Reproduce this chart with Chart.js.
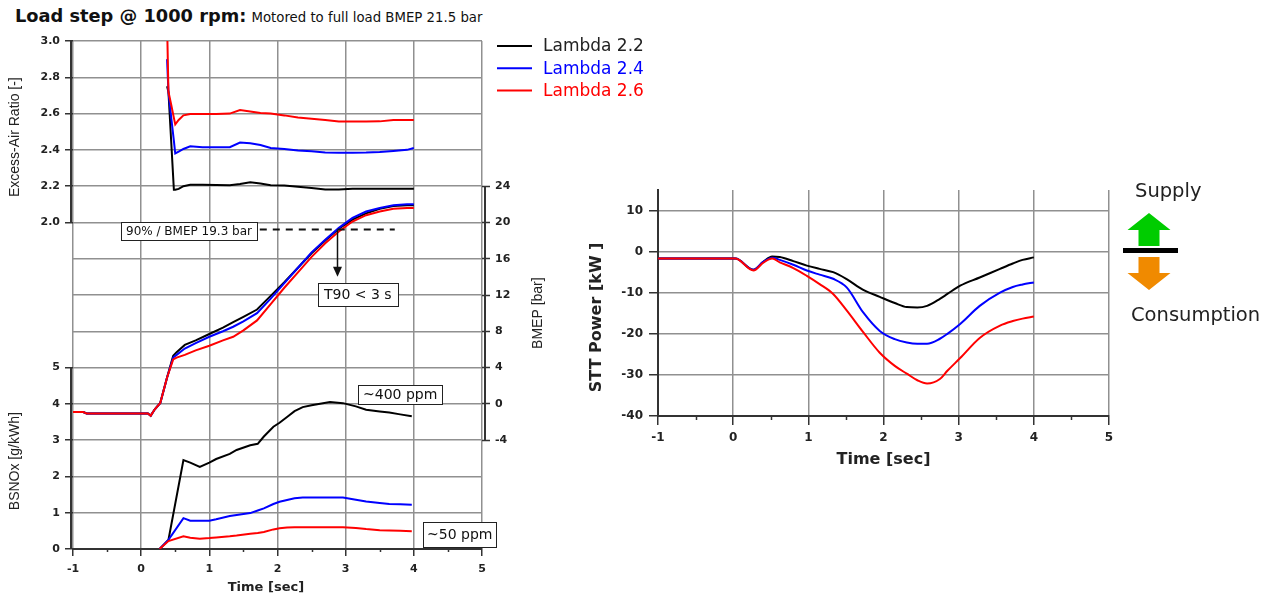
<!DOCTYPE html>
<html>
<head>
<meta charset="utf-8">
<script src="https://cdn.jsdelivr.net/npm/chart.js@4.4.1/dist/chart.umd.min.js"></script>
<style>
    body { margin: 0; background: #fff; width: 1277px; height: 599px; position: relative; overflow: hidden; font-family: 'DejaVu Sans', sans-serif; }
    #title { position: absolute; left: 15px; top: 6px; line-height: 20px; white-space: nowrap; color: #111; }
    #title b { font-size: 17.8px; }
    #title span { font-size: 13.3px; }
    #chartLeft { position: absolute; left: 0; top: 0; }
    #chartRight { position: absolute; left: 570px; top: 0; }
</style>
</head>
<body>
<div id="title"><b>Load step @ 1000 rpm:</b> <span>Motored to full load BMEP 21.5 bar</span></div>
<canvas id="chartLeft" width="700" height="599"></canvas>
<canvas id="chartRight" width="707" height="599"></canvas>
<script>
const lambdaNames = ['Lambda 2.2', 'Lambda 2.4', 'Lambda 2.6'];

// excess-air ratio [-]
const tLambda  = [0.38, 0.40, 0.44, 0.48, 0.50, 0.55, 0.62, 0.72, 0.90, 1.10, 1.30, 1.45, 1.60, 1.75, 1.90, 2.10, 2.30, 2.50, 2.70, 2.90, 3.10, 3.30, 3.50, 3.70, 3.90, 4.00];
const lambda22 = [2.75, 2.72, 2.45, 2.18, 2.18, 2.185, 2.20, 2.207, 2.207, 2.206, 2.205, 2.212, 2.222, 2.214, 2.205, 2.203, 2.196, 2.19, 2.181, 2.181, 2.185, 2.185, 2.185, 2.185, 2.185, 2.185];
const lambda24 = [2.90, 2.72, 2.58, 2.45, 2.38, 2.39, 2.405, 2.42, 2.415, 2.415, 2.415, 2.44, 2.437, 2.427, 2.41, 2.405, 2.397, 2.392, 2.386, 2.384, 2.384, 2.385, 2.388, 2.394, 2.40, 2.41];
const lambda26 = [3.10, 2.72, 2.65, 2.576, 2.54, 2.565, 2.59, 2.598, 2.598, 2.598, 2.60, 2.62, 2.612, 2.603, 2.60, 2.59, 2.578, 2.572, 2.565, 2.556, 2.556, 2.556, 2.557, 2.564, 2.565, 2.565];

// BMEP [bar]
const tBmep  = [-1.0, -0.85, -0.80, 0.10, 0.14, 0.20, 0.28, 0.38, 0.47, 0.52, 0.64, 0.80, 1.00, 1.20, 1.35, 1.50, 1.70, 1.90, 2.10, 2.30, 2.50, 2.70, 2.90, 3.10, 3.30, 3.50, 3.70, 3.90, 4.00];
const bmep22 = [-0.9, -0.9, -1.05, -1.05, -1.3, -0.6, 0.1, 2.9, 5.3, 5.7, 6.5, 7.0, 7.7, 8.4, 9.0, 9.6, 10.4, 11.9, 13.4, 15.0, 16.6, 18.0, 19.3, 20.3, 21.0, 21.5, 21.8, 21.9, 21.9];
const bmep24 = [-0.9, -0.9, -1.05, -1.05, -1.3, -0.6, 0.1, 2.9, 5.1, 5.4, 6.1, 6.7, 7.4, 8.0, 8.5, 9.1, 10.0, 11.6, 13.3, 15.0, 16.7, 18.1, 19.4, 20.5, 21.2, 21.6, 21.9, 22.0, 22.0];
const bmep26 = [-0.9, -0.9, -1.05, -1.05, -1.3, -0.6, 0.1, 2.9, 4.9, 5.1, 5.4, 5.9, 6.4, 7.0, 7.4, 8.1, 9.2, 11.0, 12.8, 14.5, 16.2, 17.7, 19.0, 20.1, 20.8, 21.2, 21.5, 21.6, 21.6];

// BSNOx [g/kWh]
const tNox  = [0.27, 0.40, 0.62, 0.72, 0.86, 1.00, 1.10, 1.30, 1.40, 1.60, 1.71, 1.80, 1.94, 2.03, 2.14, 2.25, 2.37, 2.50, 2.77, 2.96, 3.15, 3.30, 3.50, 3.64, 3.80, 3.97];
const nox22 = [0.0, 0.25, 2.45, 2.38, 2.26, 2.38, 2.48, 2.62, 2.73, 2.86, 2.90, 3.10, 3.37, 3.48, 3.64, 3.80, 3.91, 3.96, 4.05, 4.02, 3.93, 3.84, 3.79, 3.76, 3.71, 3.66];
const nox24 = [0.0, 0.25, 0.85, 0.78, 0.78, 0.78, 0.82, 0.91, 0.94, 0.99, 1.06, 1.12, 1.24, 1.30, 1.35, 1.40, 1.42, 1.42, 1.42, 1.42, 1.36, 1.31, 1.27, 1.24, 1.23, 1.22];
const nox26 = [0.0, 0.22, 0.35, 0.31, 0.28, 0.30, 0.32, 0.35, 0.37, 0.42, 0.44, 0.47, 0.54, 0.57, 0.59, 0.60, 0.60, 0.60, 0.60, 0.60, 0.58, 0.55, 0.52, 0.51, 0.50, 0.49];

// STT power [kW]
const tStt  = [-1.0, 0.03, 0.27, 0.40, 0.52, 0.62, 0.80, 0.98, 1.15, 1.33, 1.51, 1.73, 1.95, 2.15, 2.31, 2.45, 2.58, 2.75, 2.85, 3.02, 3.28, 3.55, 3.72, 3.85, 4.00];
const stt22 = [-1.7, -1.7, -4.4, -2.5, -1.2, -1.3, -2.3, -3.4, -4.2, -5.0, -6.7, -9.3, -11.0, -12.5, -13.5, -13.6, -13.2, -11.5, -10.3, -8.3, -6.3, -4.2, -2.9, -2.0, -1.4];
const stt24 = [-1.7, -1.7, -4.4, -2.5, -1.5, -2.0, -3.2, -4.6, -5.6, -6.6, -8.7, -14.8, -19.3, -21.3, -22.1, -22.4, -22.4, -21.2, -20.0, -17.6, -13.2, -10.0, -8.6, -8.0, -7.5];
const stt26 = [-1.7, -1.7, -4.6, -2.7, -1.7, -2.6, -4.0, -5.9, -7.9, -10.3, -14.3, -19.6, -24.6, -27.8, -29.7, -31.3, -32.1, -31.0, -29.0, -25.9, -21.0, -18.0, -16.9, -16.3, -15.8];

// tick labels on the shared left axis
const lambdaTickLabels = ['2.0', '2.2', '2.4', '2.6', '2.8', '3.0'];
const noxTickLabels = ['0', '1', '2', '3', '4', '5'];

const colors = ['#000000', '#0000ff', '#ff0000'];
const gridColor = '#909090';
const axisColor = '#333';
const textColor = '#222';

Chart.defaults.font.family = 'DejaVu Sans';
Chart.defaults.animation = false;

const pts = (ts, vs) => ts.map((t, i) => ({x: t, y: vs[i]}));

function line(label, ts, vs, color, axis, smooth) {
    return {
        label: label,
        data: pts(ts, vs),
        borderColor: color,
        borderWidth: 2,
        pointRadius: 0,
        fill: false,
        yAxisID: axis,
        cubicInterpolationMode: smooth ? 'monotone' : 'default',
        tension: 0
    };
}

// left axis: 14 grid steps, lower part BSNOx, upper part excess-air ratio
function gridLabel(v) {
    if (v <= 5) return noxTickLabels[v];
    if (v >= 9) return lambdaTickLabels[v - 9];
    return '';
}

function vline(ctx, x, y1, y2) {
    ctx.beginPath();
    ctx.moveTo(x, y1);
    ctx.lineTo(x, y2);
    ctx.stroke();
}

function rotText(ctx, text, x, y, font) {
    ctx.save();
    ctx.translate(x, y);
    ctx.rotate(-Math.PI / 2);
    ctx.font = font;
    ctx.fillStyle = textColor;
    ctx.textAlign = 'center';
    ctx.textBaseline = 'middle';
    ctx.fillText(text, 0, 0);
    ctx.restore();
}

function minorTicks(ctx, xScale, y0, len) {
    ctx.strokeStyle = axisColor;
    ctx.lineWidth = 1.5;
    for (let v = -0.5; v < 5; v += 1) {
        const px = Math.round(xScale.getPixelForValue(v)) + 0.5;
        vline(ctx, px, y0, y0 + len);
    }
}

function labelBox(ctx, text, left, cy, size, padX, h) {
    ctx.font = size + 'px "DejaVu Sans"';
    const w = Math.round(ctx.measureText(text).width + 2 * padX);
    const top = Math.round(cy - h / 2);
    const l = Math.round(left);
    ctx.fillStyle = '#fff';
    ctx.fillRect(l, top, w, h);
    ctx.strokeStyle = '#222';
    ctx.lineWidth = 1;
    ctx.strokeRect(l + 0.5, top + 0.5, w, h);
    ctx.fillStyle = '#111';
    ctx.textAlign = 'left';
    ctx.textBaseline = 'middle';
    ctx.fillText(text, l + padX, top + h / 2 + 1);
}

const leftDecor = {
    id: 'leftDecor',
    afterDraw: chart => {
        const {ctx, chartArea: a} = chart;
        const {x, y, yLam, yNox, yBmep} = chart.scales;
        ctx.save();

        // partial axis lines
        ctx.strokeStyle = axisColor;
        ctx.lineWidth = 2;
        vline(ctx, a.left - 2, y.getPixelForValue(9), y.getPixelForValue(14));
        vline(ctx, a.left - 2, y.getPixelForValue(0), y.getPixelForValue(5));
        vline(ctx, a.right + 3, yBmep.getPixelForValue(-4), yBmep.getPixelForValue(24));
        minorTicks(ctx, x, a.bottom, 3);

        // axis titles
        const tf = '14px "Liberation Sans"';
        rotText(ctx, 'Excess-Air Ratio [-]', 15, yLam.getPixelForValue(2.47), tf);
        rotText(ctx, 'BSNOx [g/kWh]', 15, yNox.getPixelForValue(2.42), tf);
        rotText(ctx, 'BMEP [bar]', 538, yBmep.getPixelForValue(10), tf);
        ctx.font = 'bold 13px "DejaVu Sans"';
        ctx.fillStyle = textColor;
        ctx.textAlign = 'center';
        ctx.textBaseline = 'middle';
        ctx.fillText('Time [sec]', x.getPixelForValue(1.83), 588);

        // legend
        ctx.font = '17px "DejaVu Sans"';
        ctx.textAlign = 'left';
        lambdaNames.forEach((name, i) => {
            const ly = a.top + 5 + i * 22.3;
            ctx.strokeStyle = colors[i];
            ctx.lineWidth = 2;
            ctx.beginPath();
            ctx.moveTo(a.right + 15, ly);
            ctx.lineTo(a.right + 50, ly);
            ctx.stroke();
            ctx.fillStyle = i === 0 ? textColor : colors[i];
            ctx.fillText(name, a.right + 61, ly + 1);
        });

        // T90 annotation
        const y90 = Math.round(yBmep.getPixelForValue(19.3)) + 0.5;
        ctx.strokeStyle = '#111';
        ctx.lineWidth = 2;
        ctx.setLineDash([7, 6]);
        ctx.beginPath();
        ctx.moveTo(x.getPixelForValue(1.74), y90);
        ctx.lineTo(x.getPixelForValue(3.72), y90);
        ctx.stroke();
        ctx.setLineDash([]);
        const ax = Math.round(x.getPixelForValue(2.88)) + 0.5;
        const tip = yBmep.getPixelForValue(14.0);
        ctx.lineWidth = 1.5;
        vline(ctx, ax, y90, tip - 8);
        ctx.fillStyle = '#111';
        ctx.beginPath();
        ctx.moveTo(ax - 4.5, tip - 10);
        ctx.lineTo(ax + 4.5, tip - 10);
        ctx.lineTo(ax, tip);
        ctx.closePath();
        ctx.fill();

        labelBox(ctx, '90% / BMEP 19.3 bar', x.getPixelForValue(-0.29), yBmep.getPixelForValue(19.1), 12, 5, 18);
        labelBox(ctx, 'T90 < 3 s', x.getPixelForValue(2.59), yBmep.getPixelForValue(12.1), 14, 6, 23);
        labelBox(ctx, '~400 ppm', x.getPixelForValue(3.18), yNox.getPixelForValue(4.27), 14, 5, 19);
        labelBox(ctx, '~50 ppm', x.getPixelForValue(4.13), yNox.getPixelForValue(0.4), 14, 4, 25);
        ctx.restore();
    }
};

function arrow(ctx, cx, tipY, dir, color) {
    const s = dir === 'up' ? 1 : -1;
    ctx.fillStyle = color;
    ctx.beginPath();
    ctx.moveTo(cx, tipY);
    ctx.lineTo(cx + 21.5, tipY + s * 17);
    ctx.lineTo(cx + 10.5, tipY + s * 17);
    ctx.lineTo(cx + 10.5, tipY + s * 33);
    ctx.lineTo(cx - 10.5, tipY + s * 33);
    ctx.lineTo(cx - 10.5, tipY + s * 17);
    ctx.lineTo(cx - 21.5, tipY + s * 17);
    ctx.closePath();
    ctx.fill();
}

const rightDecor = {
    id: 'rightDecor',
    afterDraw: chart => {
        const {ctx, chartArea: a} = chart;
        const {x, y} = chart.scales;
        ctx.save();
        minorTicks(ctx, x, a.bottom, 4);
        rotText(ctx, 'STT Power [kW ]', 27, y.getPixelForValue(-16), 'bold 16px "DejaVu Sans"');

        const r = a.right;
        ctx.font = '19.5px "DejaVu Sans"';
        ctx.fillStyle = textColor;
        ctx.textAlign = 'left';
        ctx.textBaseline = 'alphabetic';
        ctx.fillText('Supply', r + 26, 197);
        ctx.fillText('Consumption', r + 22, 321);
        arrow(ctx, r + 40, 213, 'up', '#00cc00');
        ctx.fillStyle = '#000';
        ctx.fillRect(r + 14, 248, 55, 5);
        arrow(ctx, r + 40, 290, 'down', '#f08a00');
        ctx.restore();
    }
};

const tickFont = {family: 'DejaVu Sans', size: 11, weight: 'bold'};
const isInt = v => Math.abs(v - Math.round(v)) < 1e-6;

const leftSets = [];
[[lambda26, lambda24, lambda22], [bmep26, bmep24, bmep22], [nox26, nox24, nox22]].forEach((group, g) => {
    const ts = [tLambda, tBmep, tNox][g];
    const axis = ['yLam', 'yBmep', 'yNox'][g];
    group.forEach((vs, k) => {
        const i = 2 - k;
        leftSets.push(line(lambdaNames[i], ts, vs, colors[i], axis, false));
    });
});

new Chart(document.getElementById('chartLeft'), {
    type: 'line',
    data: { datasets: leftSets },
    options: {
        responsive: false,
        animation: false,
        layout: { padding: { top: 41, left: 0, right: 0, bottom: 0 } },
        plugins: { legend: { display: false }, tooltip: { enabled: false } },
        scales: {
            x: {
                type: 'linear',
                position: 'bottom',
                min: -1,
                max: 5,
                afterFit: s => { s.height = 50; },
                ticks: {
                    stepSize: 0.5,
                    autoSkip: false,
                    maxRotation: 0,
                    padding: 7,
                    color: textColor,
                    font: tickFont,
                    callback: v => isInt(v) ? Math.round(v) : ''
                },
                grid: {
                    color: c => isInt(c.tick.value) ? gridColor : 'rgba(0,0,0,0)',
                    lineWidth: 1.5,
                    tickLength: 7,
                    tickWidth: 1.5,
                    tickColor: c => isInt(c.tick.value) ? axisColor : 'rgba(0,0,0,0)'
                },
                border: { display: true, color: axisColor, width: 2 }
            },
            y: {
                type: 'linear',
                position: 'left',
                min: 0,
                max: 14,
                afterFit: s => { s.width = 73; },
                ticks: {
                    stepSize: 1,
                    autoSkip: false,
                    padding: 5,
                    color: textColor,
                    font: tickFont,
                    callback: v => gridLabel(v)
                },
                grid: {
                    color: gridColor,
                    lineWidth: 1.5,
                    tickLength: 8,
                    tickWidth: 1.5,
                    tickColor: c => gridLabel(c.tick.value) !== '' ? axisColor : 'rgba(0,0,0,0)'
                },
                border: { display: false }
            },
            yLam: { type: 'linear', display: false, min: 3.0 - 14 * 0.2, max: 3.0 },
            yNox: { type: 'linear', display: false, min: 0, max: 14 },
            yBmep: {
                type: 'linear',
                position: 'right',
                min: -16,
                max: 40,
                afterFit: s => { s.width = 218; },
                ticks: {
                    stepSize: 4,
                    autoSkip: false,
                    padding: 5,
                    color: textColor,
                    font: tickFont,
                    callback: v => (v >= -4 && v <= 24) ? v : ''
                },
                grid: {
                    drawOnChartArea: false,
                    tickLength: 8,
                    tickWidth: 1.5,
                    tickColor: c => (c.tick.value >= -4 && c.tick.value <= 24) ? axisColor : 'rgba(0,0,0,0)'
                },
                border: { display: false }
            }
        }
    },
    plugins: [leftDecor]
});

const rightSets = [stt26, stt24, stt22].map((vs, k) => {
    const i = 2 - k;
    return line(lambdaNames[i], tStt, vs, colors[i], 'y', true);
});

new Chart(document.getElementById('chartRight'), {
    type: 'line',
    data: { datasets: rightSets },
    options: {
        responsive: false,
        animation: false,
        layout: { padding: { top: 190, left: 0, right: 168, bottom: 123 } },
        plugins: { legend: { display: false }, tooltip: { enabled: false } },
        scales: {
            x: {
                type: 'linear',
                min: -1,
                max: 5,
                afterFit: s => { s.height = 60; },
                ticks: {
                    stepSize: 0.5,
                    autoSkip: false,
                    maxRotation: 0,
                    padding: 6,
                    color: textColor,
                    font: {family: 'DejaVu Sans', size: 12, weight: 'bold'},
                    callback: v => isInt(v) ? Math.round(v) : ''
                },
                grid: {
                    color: c => isInt(c.tick.value) ? gridColor : 'rgba(0,0,0,0)',
                    lineWidth: 1.5,
                    tickLength: 9,
                    tickWidth: 1.5,
                    tickColor: c => isInt(c.tick.value) ? axisColor : 'rgba(0,0,0,0)'
                },
                border: { display: true, color: axisColor, width: 2 },
                title: {
                    display: true,
                    text: 'Time [sec]',
                    color: textColor,
                    font: {family: 'DejaVu Sans', size: 16, weight: 'bold'},
                    padding: { top: 0, bottom: 7 }
                }
            },
            y: {
                type: 'linear',
                min: -40,
                max: 15,
                afterFit: s => { s.width = 88; },
                ticks: {
                    stepSize: 10,
                    includeBounds: false,
                    autoSkip: false,
                    padding: 6,
                    color: textColor,
                    font: {family: 'DejaVu Sans', size: 12, weight: 'bold'}
                },
                grid: {
                    color: gridColor,
                    lineWidth: 1.5,
                    tickLength: 9,
                    tickWidth: 1.5,
                    tickColor: axisColor
                },
                border: { display: true, color: axisColor, width: 2 }
            }
        }
    },
    plugins: [rightDecor]
});
</script>
</body>
</html>
